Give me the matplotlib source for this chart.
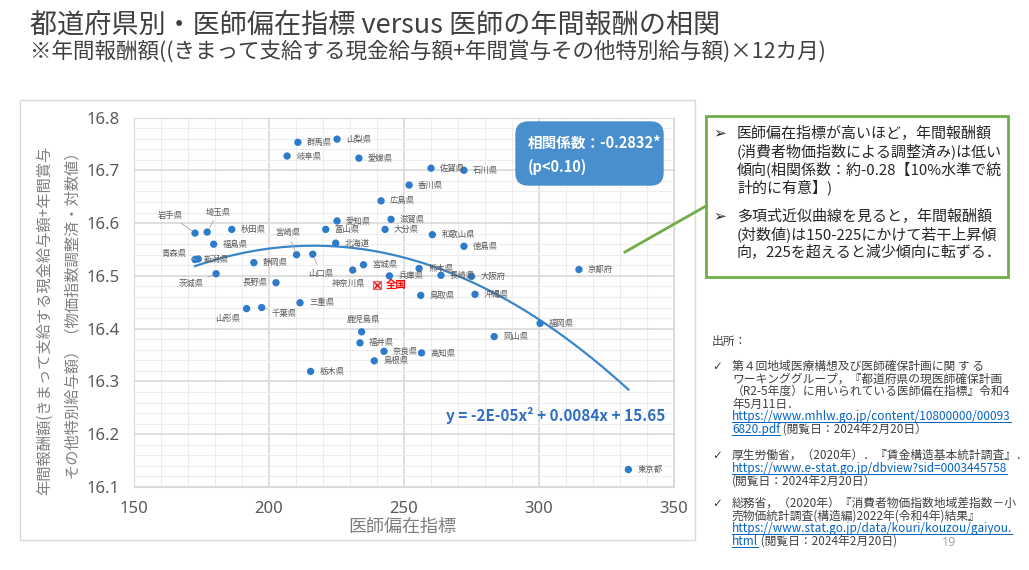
import numpy as np
import matplotlib
matplotlib.use('Agg')
import matplotlib.pyplot as plt
from matplotlib.patches import FancyBboxPatch, Rectangle
from matplotlib.lines import Line2D
from matplotlib.ticker import MultipleLocator

plt.rcParams['font.family'] = ['Noto Sans CJK JP', 'DejaVu Sans']

W, H = 1029, 570

# --- data ---
prefs = ['北海道', '青森県', '岩手県', '宮城県', '秋田県', '山形県', '福島県',
         '茨城県', '栃木県', '群馬県', '埼玉県', '千葉県', '東京都', '神奈川県',
         '新潟県', '富山県', '石川県', '福井県', '山梨県', '長野県', '岐阜県',
         '静岡県', '愛知県', '三重県', '滋賀県', '京都府', '大阪府', '兵庫県',
         '奈良県', '和歌山県', '鳥取県', '島根県', '岡山県', '広島県', '山口県',
         '徳島県', '香川県', '愛媛県', '高知県', '福岡県', '佐賀県', '長崎県',
         '熊本県', '大分県', '宮崎県', '鹿児島県', '沖縄県']
doctor_index = [224.7, 172.6, 172.6, 235.0, 186.2, 191.7, 179.5,
                180.4, 215.4, 210.7, 177.1, 197.3, 333.1, 231.0,
                173.8, 221.0, 272.2, 233.7, 225.2, 202.6, 206.7,
                194.4, 225.2, 211.5, 245.2, 314.8, 275.0, 244.6,
                242.6, 260.5, 256.2, 239.0, 283.4, 241.5, 216.2,
                272.2, 251.9, 233.3, 256.5, 300.4, 260.0, 263.7,
                255.6, 243.0, 210.2, 234.3, 276.3]
log_pay = [16.562, 16.531, 16.581, 16.521, 16.588, 16.438, 16.560,
           16.504, 16.319, 16.753, 16.583, 16.440, 16.133, 16.511,
           16.532, 16.588, 16.700, 16.373, 16.759, 16.487, 16.727,
           16.525, 16.604, 16.449, 16.607, 16.512, 16.499, 16.500,
           16.357, 16.578, 16.463, 16.339, 16.385, 16.642, 16.541,
           16.556, 16.672, 16.723, 16.354, 16.410, 16.704, 16.501,
           16.514, 16.588, 16.540, 16.394, 16.465]
national_x, national_y = 239.9, 16.482

corr_text = ['相関係数：-0.2832*', '(p<0.10)']
equation = 'y = -2E-05x² + 0.0084x + 15.65'

# label offsets in pixels (dx, dy, ha, leader line)
label_pos = {
    '岩手県': (-25, 18, 'center', True),
    '埼玉県': (11, 20, 'center', True),
    '青森県': (-8, 6, 'right', True),
    '新潟県': (6, 0, 'left', False),
    '茨城県': (-25, -10, 'center', True),
    '長野県': (-8, 0, 'right', False),
    '山形県': (-19, -10, 'center', False),
    '千葉県': (10, -6, 'left', True),
    '宮崎県': (-9, 22, 'center', True),
    '山口県': (8, -19, 'center', True),
    '神奈川県': (-4, -13, 'center', False),
    '鹿児島県': (2, 12, 'center', False),
}

def fx(x):
    return x / W

def fy(y):
    return 1 - y / H

fig = plt.figure(figsize=(W / 100, H / 100), dpi=100)
fig.patch.set_facecolor('white')

# chart frame
fig.add_artist(Rectangle((fx(20), fy(540)), (695 - 20) / W, (540 - 100) / H,
                         transform=fig.transFigure, fill=False,
                         edgecolor='#D9D9D9', linewidth=1))

ax = fig.add_axes([134 / W, 1 - 487 / H, 540 / W, 369.5 / H])
ax.set_xlim(150, 350)
ax.set_ylim(16.1, 16.8)
ax.xaxis.set_major_locator(MultipleLocator(50))
ax.xaxis.set_minor_locator(MultipleLocator(10))
ax.yaxis.set_major_locator(MultipleLocator(0.1))
ax.yaxis.set_minor_locator(MultipleLocator(0.02))
ax.grid(which='major', color='#D9D9D9', linewidth=1.2)
ax.grid(which='minor', color='#EDEDED', linewidth=0.8)
ax.set_axisbelow(True)
for s in ax.spines.values():
    s.set_color('#D9D9D9')
ax.tick_params(which='both', length=0, colors='#595959', labelsize=12, pad=10)
ax.set_yticks(np.arange(16.1, 16.81, 0.1))
ax.set_yticklabels(['%.1f' % v for v in np.arange(16.1, 16.81, 0.1)])
for lab in ax.get_xticklabels() + ax.get_yticklabels():
    lab.set_family('Noto Sans')

x = np.array(doctor_index)
y = np.array(log_pay)
ax.scatter(x, y, s=28, color='#2E7BCB', zorder=3, edgecolor='none')

# polynomial trend (degree 2) of the plotted points
coef = np.polyfit(x, y, 2)
xx = np.linspace(x.min(), x.max(), 200)
ax.plot(xx, np.polyval(coef, xx), color='#3A86C8', linewidth=1.6, zorder=2)

# national marker
ax.scatter([national_x], [national_y], s=34, marker='s', facecolor='#F8C8C8',
           edgecolor='#F06060', linewidth=0.8, zorder=4)
ax.scatter([national_x], [national_y], s=22, marker='x', color='#E02020',
           linewidth=1, zorder=5)
ax.annotate('全国', (national_x, national_y), xytext=(9, 0),
            textcoords='offset pixels', fontsize=7.5, color='#FF0000',
            fontweight='bold', va='center', ha='left')

for name, xv, yv in zip(prefs, x, y):
    dx, dy, ha, leader = label_pos.get(name, (9, 0, 'left', False))
    props = None
    if leader:
        props = dict(arrowstyle='-', color='#A6A6A6', linewidth=0.6,
                     shrinkA=1, shrinkB=3)
    ax.annotate(name, (xv, yv), xytext=(dx, dy), textcoords='offset pixels',
                fontsize=6, color='#595959', ha=ha, va='center',
                arrowprops=props, zorder=6)

# axis titles
fig.text(fx(402), fy(527), '医師偏在指標', fontsize=13, color='#7F7F7F',
         ha='center', va='center')
fig.text(fx(45), fy(320), '年間報酬額(きまって支給する現金給与額+年間賞与',
         fontsize=11, color='#7F7F7F', rotation=90, ha='center', va='center')
fig.text(fx(71), fy(310), 'その他特別給与額）（物価指数調整済・対数値）',
         fontsize=11, color='#7F7F7F', rotation=90, ha='center', va='center')

# correlation box
fig.add_artist(FancyBboxPatch((fx(516), fy(185)), (663 - 516) / W, (185 - 122) / H,
                              boxstyle='round,pad=0,rounding_size=0.012',
                              transform=fig.transFigure, facecolor='#4A8FCD',
                              edgecolor='#4A8FCD', mutation_aspect=W / H))
fig.text(fx(528), fy(143), corr_text[0], fontsize=10.5, color='white',
         fontweight='bold', va='center')
fig.text(fx(528), fy(167), corr_text[1], fontsize=10.5, color='white',
         fontweight='bold', va='center')

# equation
fig.text(fx(665), fy(416), equation, fontsize=11, color='#2F6DC0',
         fontweight='bold', ha='right', va='center',
         family=['Noto Sans CJK JP', 'DejaVu Sans'])

# title
fig.text(fx(30), fy(25), '都道府県別・医師偏在指標 versus 医師の年間報酬の相関',
         fontsize=19.5, color='#404040', va='center')
fig.text(fx(30), fy(51), '※年間報酬額((きまって支給する現金給与額+年間賞与その他特別給与額)×12カ月)',
         fontsize=15.5, color='#404040', va='center')

# comment box
fig.add_artist(Line2D([fx(625), fx(706)], [fy(252), fy(206)], color='#70AD47',
                      linewidth=2))
fig.add_artist(Rectangle((fx(706), fy(277)), (1008 - 706) / W, (277 - 116) / H,
                         transform=fig.transFigure, facecolor='white',
                         edgecolor='#70AD47', linewidth=2))
box_lines = [
    (133, '医師偏在指標が高いほど，年間報酬額', True),
    (151, '(消費者物価指数による調整済み)は低い', False),
    (169, '傾向(相関係数：約-0.28【10%水準で統', False),
    (187, '計的に有意】)', False),
    (216, '多項式近似曲線を見ると，年間報酬額', True),
    (234, '(対数値)は150-225にかけて若干上昇傾', False),
    (252, '向，225を超えると減少傾向に転ずる．', False),
]
for yy, txt, bullet in box_lines:
    if bullet:
        fig.text(fx(713), fy(yy), '➢', fontsize=11, color='#262626', va='center',
                 family='DejaVu Sans')
    fig.text(fx(737), fy(yy), txt, fontsize=10.8, color='#262626', va='center')

# sources
renderer = fig.canvas.get_renderer()

def write_line(x0, ybase, parts, size=8.5):
    xp = x0
    for txt, link in parts:
        col = '#0563C1' if link else '#404040'
        t = fig.text(fx(xp), fy(ybase), txt, fontsize=size, color=col,
                     va='baseline')
        bb = t.get_window_extent(renderer)
        if link:
            fig.add_artist(Line2D([bb.x0 / W, bb.x1 / W],
                                  [fy(ybase + 2), fy(ybase + 2)],
                                  color=col, linewidth=0.7))
        xp += bb.width

fig.text(fx(712), fy(341), '出所：', fontsize=8.5, color='#404040', va='center')

sources = [
    (370, [[('第４回地域医療構想及び医師確保計画に関 す る', False)],
           [('ワーキンググループ，『都道府県の現医師確保計画', False)],
           [('（R2-5年度）に用いられている医師偏在指標』令和4', False)],
           [('年5月11日．', False)],
           [('https://www.mhlw.go.jp/content/10800000/00093', True)],
           [('6820.pdf', True), (' (閲覧日：2024年2月20日）', False)]]),
    (459, [[('厚生労働省，（2020年）．『賃金構造基本統計調査』．', False)],
           [('https://www.e-stat.go.jp/dbview?sid=0003445758', True)],
           [('(閲覧日：2024年2月20日）', False)]]),
    (507, [[('総務省，（2020年）『消費者物価指数地域差指数－小', False)],
           [('売物価統計調査(構造編)2022年(令和4年)結果』', False)],
           [('https://www.stat.go.jp/data/kouri/kouzou/gaiyou.', True)],
           [('html', True), (' (閲覧日：2024年2月20日)', False)]]),
]
for y0, lines in sources:
    fig.text(fx(712), fy(y0), '✓', fontsize=8.5, color='#404040', va='baseline',
             family='DejaVu Sans')
    for i, parts in enumerate(lines):
        write_line(732, y0 + i * 12.6, parts)

fig.text(fx(942), fy(542), '19', fontsize=9, color='#A6A6A6', va='center',
         family='Noto Sans')

fig.savefig('out.png', dpi=100)
